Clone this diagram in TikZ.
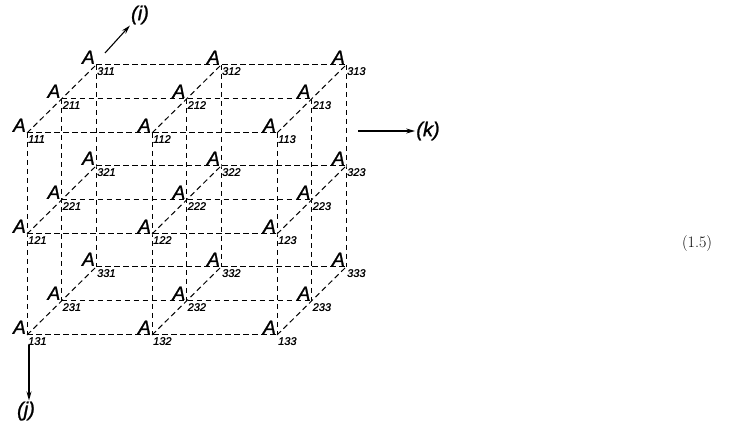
\documentclass[tikz,border=0pt]{standalone}
\usepackage{fontspec}
\newfontfamily\lsans{Liberation Sans}
\newfontfamily\lsansb[FakeBold=1.2]{Liberation Sans}
\usetikzlibrary{arrows.meta}
\tikzset{
  gridline/.style={line width=1pt, dash pattern=on 5.5pt off 3.5pt},
  bigA/.style={font=\lsansb\itshape\fontsize{19}{19}\selectfont, inner sep=0pt, anchor=south east},
  sub/.style={font=\lsansb\itshape\fontsize{11}{11}\selectfont, inner sep=0pt, anchor=north west},
  axlabel/.style={font=\lsansb\itshape\fontsize{20}{20}\selectfont, inner sep=1pt},
  axarrow/.style={line width=1.1pt, -{Stealth[length=9pt,width=5pt]}}
}
\begin{document}
\begin{tikzpicture}[x=1pt,y=-1pt]
\useasboundingbox (0,0) rectangle (744,427);
\foreach \i in {1,2,3}{
 \foreach \j in {1,2,3}{
  \foreach \k in {1,2,3}{
   \coordinate (p\i\j\k) at ({27+(\k-1)*125+(\i-1)*34.5},{133+(\j-1)*101-(\i-1)*34});
  }}}
% grid lines
\foreach \i in {1,2,3}{
 \foreach \j in {1,2,3}{
  \draw[gridline] (p\i\j1) -- (p\i\j2) -- (p\i\j3);
 }}
\foreach \i in {1,2,3}{
 \foreach \k in {1,2,3}{
  \draw[gridline] (p\i1\k) -- (p\i2\k) -- (p\i3\k);
 }}
\foreach \j in {1,2,3}{
 \foreach \k in {1,2,3}{
  \draw[gridline] (p1\j\k) -- (p2\j\k) -- (p3\j\k);
 }}
% labels
\foreach \i in {1,2,3}{
 \foreach \j in {1,2,3}{
  \foreach \k in {1,2,3}{
   \node[bigA] (A\i\j\k) at ([shift={(-1,-1)}]p\i\j\k) {A};
   \node[sub] (s\i\j\k) at ([shift={(1,2)}]p\i\j\k) {\i\j\k};
  }}}
% axes
\node[axlabel] (li) at (140,15) {(i)};
\coordinate (ai) at (105,53);
\draw[axarrow] (ai) -- (li.south west);
\node[axlabel] (lk) at (428,131) {(k)};
\coordinate (ak) at (358,131);
\draw[axarrow] (ak) -- (lk.west);
\node[axlabel] (lj) at (26,411) {(j)};
\coordinate (aj) at (29,345);
\draw[axarrow] (aj) -- (aj |- lj.north);
% equation number
\node[font=\fontsize{16}{16}\selectfont] (eq) at (697,244) {(1.5)};
\end{tikzpicture}
\end{document}
